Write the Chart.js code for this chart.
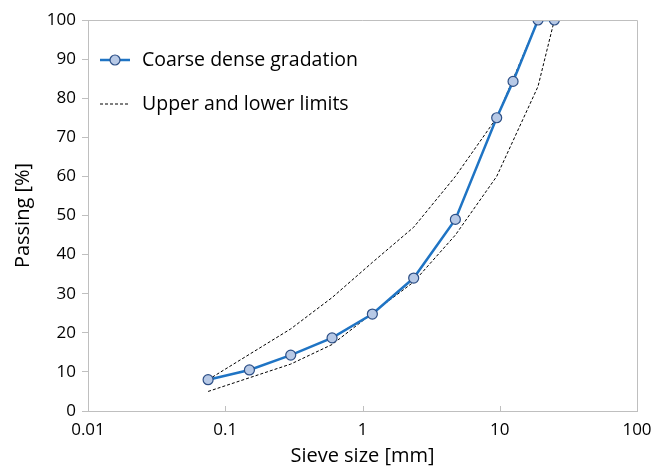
<!DOCTYPE html>
<html>
<head>
<meta charset="utf-8">
<script src="https://cdn.jsdelivr.net/npm/chart.js@4.4.0/dist/chart.umd.min.js"></script>
<style>
  html, body { margin: 0; padding: 0; background: #fff; }
  #wrap { width: 654px; height: 468px; }
</style>
</head>
<body>
<div id="wrap"><canvas id="gradChart"></canvas></div>
<script>
// Sieve sizes [mm] and passing [%]
var sieveSizes = [0.075, 0.15, 0.3, 0.6, 1.18, 2.36, 4.75, 9.5, 12.5, 19, 25];
var gradation  = [8, 10.5, 14.3, 18.7, 24.8, 34, 49, 75, 84.3, 100, 100];

var limitSizes = [0.075, 0.3, 0.6, 1.18, 2.36, 4.75, 9.5, 19, 25];
var upperLimit = [8, 21, 29, 38, 47, 60, 75, 100, 100];
var lowerLimit = [5, 12, 17, 25, 33, 45, 60, 83, 100];

var xTicks = [0.01, 0.1, 1, 10, 100];
var yTicks = [0, 10, 20, 30, 40, 50, 60, 70, 80, 90, 100];

function toPoints(xs, ys) {
  return xs.map(function(x, i) { return { x: x, y: ys[i] }; });
}

var axisGray = '#bfbfbf';
var fontFam = '"Open Sans", "Noto Sans", sans-serif';

// frame on top/right, inward x ticks, and the legend box
var extras = {
  id: 'extras',
  afterDraw: function(chart) {
    var ctx = chart.ctx, a = chart.chartArea, xs = chart.scales.x;
    ctx.save();
    ctx.strokeStyle = axisGray;
    ctx.lineWidth = 1;
    ctx.beginPath();
    ctx.moveTo(a.left, a.top + 0.5);
    ctx.lineTo(a.right + 0.5, a.top + 0.5);
    ctx.lineTo(a.right + 0.5, a.bottom);
    xTicks.forEach(function(v) {
      var px = Math.round(xs.getPixelForValue(v)) + 0.5;
      ctx.moveTo(px, a.bottom);
      ctx.lineTo(px, a.bottom - 5);
    });
    ctx.stroke();

    // legend
    var ds = chart.data.datasets;
    var items = [ds[0], ds[1]];
    var lx = 100, ly = 60, gap = 44;
    ctx.font = '19.5px ' + fontFam;
    ctx.textBaseline = 'middle';
    items.forEach(function(d, i) {
      var y = ly + i * gap;
      ctx.strokeStyle = d.borderColor;
      ctx.lineWidth = d.borderWidth;
      ctx.setLineDash(d.borderDash || []);
      ctx.beginPath();
      ctx.moveTo(lx, y);
      ctx.lineTo(lx + 30, y);
      ctx.stroke();
      ctx.setLineDash([]);
      if (d.pointRadius > 0) {
        ctx.beginPath();
        ctx.arc(lx + 15, y, d.pointRadius, 0, Math.PI * 2);
        ctx.fillStyle = d.pointBackgroundColor;
        ctx.fill();
        ctx.lineWidth = d.pointBorderWidth;
        ctx.strokeStyle = d.pointBorderColor;
        ctx.stroke();
      }
      ctx.fillStyle = '#000';
      ctx.fillText(d.label, lx + 42, y);
    });
    ctx.restore();
  }
};

new Chart(document.getElementById('gradChart').getContext('2d'), {
  type: 'scatter',
  data: {
    datasets: [{
      label: 'Coarse dense gradation',
      data: toPoints(sieveSizes, gradation),
      showLine: true,
      borderColor: '#1f74c4',
      borderWidth: 2.5,
      pointRadius: 5,
      pointBackgroundColor: '#b7c9e6',
      pointBorderColor: '#2d4f86',
      pointBorderWidth: 1.2,
      order: 0
    }, {
      label: 'Upper and lower limits',
      data: toPoints(limitSizes, upperLimit),
      showLine: true,
      borderColor: '#000',
      borderWidth: 1,
      borderDash: [3, 2],
      pointRadius: 0,
      order: 1
    }, {
      label: 'Lower limit',
      data: toPoints(limitSizes, lowerLimit),
      showLine: true,
      borderColor: '#000',
      borderWidth: 1,
      borderDash: [3, 2],
      pointRadius: 0,
      order: 1
    }]
  },
  options: {
    responsive: true,
    maintainAspectRatio: false,
    animation: false,
    layout: { padding: { top: 20, right: 17, left: 0, bottom: 0 } },
    plugins: {
      legend: { display: false },
      tooltip: { enabled: false }
    },
    scales: {
      x: {
        type: 'logarithmic',
        min: 0.01,
        max: 100,
        afterBuildTicks: function(scale) {
          scale.ticks = xTicks.map(function(v) { return { value: v }; });
        },
        afterFit: function(scale) { scale.height = 57; },
        grid: { display: false },
        border: { color: axisGray },
        ticks: {
          color: '#000',
          font: { size: 17, family: fontFam },
          padding: 1,
          maxRotation: 0,
          autoSkip: false,
          callback: function(v) { return String(v); }
        },
        title: {
          display: true,
          text: 'Sieve size [mm]',
          color: '#000',
          font: { size: 20, family: fontFam },
          padding: { top: 0, bottom: 0 }
        }
      },
      y: {
        min: 0,
        max: 100,
        afterBuildTicks: function(scale) {
          scale.ticks = yTicks.map(function(v) { return { value: v }; });
        },
        afterFit: function(scale) { scale.width = 88; },
        grid: {
          drawOnChartArea: false,
          color: axisGray,
          tickLength: 6
        },
        border: { color: axisGray },
        ticks: {
          color: '#000',
          font: { size: 17, family: fontFam },
          padding: 6
        },
        title: {
          display: true,
          text: 'Passing [%]',
          color: '#000',
          font: { size: 20, family: fontFam },
          padding: { top: 11, bottom: 0 }
        }
      }
    }
  },
  plugins: [extras]
});
</script>
</body>
</html>
